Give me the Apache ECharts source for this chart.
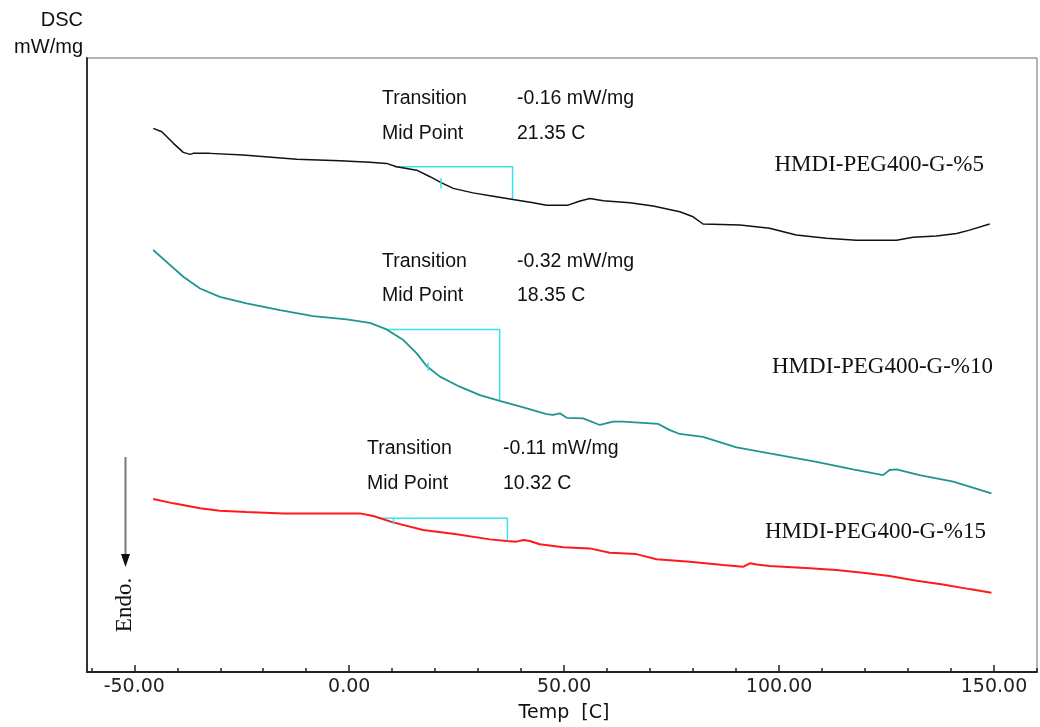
<!DOCTYPE html>
<html>
<head>
<meta charset="utf-8">
<title>DSC</title>
<script src="https://cdn.jsdelivr.net/npm/echarts@6/dist/echarts.min.js"></script>
<style>
  html, body { margin: 0; padding: 0; background: #fff; }
  #chart { width: 1040px; height: 727px; }
</style>
</head>
<body>
<div id="chart"></div>
<script>
// temperature (C) and heat flow (mW/mg, arbitrary offset)
const blackTemp = [-45.6, -43.6, -40.9, -38.6, -37.0, -36.3, -32.4, -24.7, -12.2, -2.2, 4.8, 8.7, 11.0, 15.7, 18.8, 21.5, 24.2, 28.8, 33.5, 38.1, 42.8, 45.9, 50.9, 53.7, 56.0, 59.1, 65.3, 70.7, 76.9, 80.0, 82.3, 90.9, 97.8, 104.0, 111.0, 118.0, 127.3, 131.2, 136.6, 141.3, 144.3, 149.0]
const blackVal = [2.656, 2.640, 2.583, 2.539, 2.529, 2.534, 2.534, 2.526, 2.505, 2.498, 2.491, 2.485, 2.469, 2.452, 2.420, 2.390, 2.363, 2.341, 2.325, 2.309, 2.293, 2.281, 2.281, 2.301, 2.314, 2.302, 2.293, 2.277, 2.249, 2.224, 2.189, 2.184, 2.168, 2.135, 2.119, 2.110, 2.110, 2.124, 2.130, 2.143, 2.159, 2.189]

const tealTemp = [-45.6, -42.5, -38.6, -34.7, -30.1, -23.9, -16.1, -8.4, -0.6, 4.8, 8.7, 12.6, 15.7, 18.0, 21.1, 25.7, 30.4, 35.0, 40.5, 45.9, 47.4, 49.0, 50.6, 54.4, 58.3, 61.4, 63.7, 71.9, 74.6, 76.9, 82.3, 90.1, 97.8, 108.7, 117.2, 124.2, 125.7, 127.3, 132.7, 140.5, 149.4]
const tealVal = [2.062, 2.004, 1.931, 1.874, 1.833, 1.801, 1.768, 1.739, 1.723, 1.706, 1.674, 1.622, 1.557, 1.495, 1.443, 1.394, 1.353, 1.325, 1.293, 1.260, 1.256, 1.264, 1.242, 1.239, 1.207, 1.223, 1.223, 1.212, 1.182, 1.163, 1.149, 1.098, 1.068, 1.027, 0.990, 0.962, 0.987, 0.990, 0.962, 0.930, 0.873]

const redTemp = [-45.6, -40.9, -34.7, -30.1, -23.9, -15.3, 2.5, 5.6, 10.2, 17.2, 25.0, 32.7, 36.6, 38.9, 40.5, 42.0, 44.3, 49.8, 56.0, 60.6, 66.8, 71.5, 79.2, 87.0, 91.6, 93.2, 94.8, 97.8, 107.1, 113.3, 119.5, 125.7, 132.0, 138.1, 144.3, 149.4]
const redVal = [0.845, 0.824, 0.800, 0.788, 0.782, 0.775, 0.775, 0.762, 0.731, 0.694, 0.673, 0.648, 0.640, 0.637, 0.645, 0.640, 0.624, 0.609, 0.604, 0.583, 0.576, 0.551, 0.539, 0.523, 0.514, 0.531, 0.525, 0.518, 0.507, 0.498, 0.485, 0.469, 0.446, 0.428, 0.405, 0.387]

// glass transition construction (black, teal, red)
const stepStart = [10.6, 8.7, 6.7]
const stepEnd = [38.0, 35.0, 36.8]
const stepTop = [2.469, 1.674, 0.751]
const stepBottom = [2.309, 1.329, 0.645]
const midTemp = [21.35, 18.35, 10.32]
const midTop = [2.412, 1.511, 0.751]
const midBottom = [2.363, 1.472, 0.722]

const transitions = ['-0.16 mW/mg', '-0.32 mW/mg', '-0.11 mW/mg']
const midPoints = ['21.35 C', '18.35 C', '10.32 C']
const sampleNames = ['HMDI-PEG400-G-%5', 'HMDI-PEG400-G-%10', 'HMDI-PEG400-G-%15']

const majorTicks = [-50, 0, 50, 100, 150]
const minorTicks = [-60, -40, -30, -20, -10, 10, 20, 30, 40, 60, 70, 80, 90, 110, 120, 130, 140, 160]

const curveColors = ['#111111', '#1f9590', '#ff1a1a']
const curveWidths = [1.5, 1.8, 2]
const stepColor = '#35e3ea'

function zip(xs, ys) {
  return xs.map((x, i) => [x, ys[i]])
}

const chart = echarts.init(document.getElementById('chart'))

const curves = [zip(blackTemp, blackVal), zip(tealTemp, tealVal), zip(redTemp, redVal)]

const series = []
curves.forEach((data, i) => {
  series.push({
    type: 'line',
    name: sampleNames[i],
    data: data,
    symbol: 'none',
    smooth: false,
    lineStyle: { color: curveColors[i], width: curveWidths[i] },
    z: 3,
  })
})
// cyan step brackets + midpoint tick
for (let i = 0; i < 3; i++) {
  series.push({
    type: 'line',
    data: [[stepStart[i], stepTop[i]], [stepEnd[i], stepTop[i]], [stepEnd[i], stepBottom[i]]],
    symbol: 'none',
    lineStyle: { color: stepColor, width: 1.5 },
    z: 2,
  })
  series.push({
    type: 'line',
    data: [[midTemp[i], midTop[i]], [midTemp[i], midBottom[i]]],
    symbol: 'none',
    lineStyle: { color: stepColor, width: 1.5 },
    z: 4,
  })
}

// text placements
const annoLeft = [382, 382, 367]
const valueLeft = [517, 517, 503]
const transY = [99, 262, 449]
const midY = [134, 296, 484]
const nameRight = [984, 993, 986]
const nameY = [165, 367, 532]

const sans = '"Liberation Sans", Arial, sans-serif'
const serif = '"Liberation Serif", "Times New Roman", serif'

const graphic = []
for (let i = 0; i < 3; i++) {
  graphic.push(
    { type: 'text', x: annoLeft[i], y: transY[i], style: { text: 'Transition', fontSize: 19.5, fontFamily: sans, fill: '#111', textAlign: 'left', textVerticalAlign: 'middle' } },
    { type: 'text', x: valueLeft[i], y: transY[i], style: { text: transitions[i], fontSize: 19.5, fontFamily: sans, fill: '#111', textAlign: 'left', textVerticalAlign: 'middle' } },
    { type: 'text', x: annoLeft[i], y: midY[i], style: { text: 'Mid Point', fontSize: 19.5, fontFamily: sans, fill: '#111', textAlign: 'left', textVerticalAlign: 'middle' } },
    { type: 'text', x: valueLeft[i], y: midY[i], style: { text: midPoints[i], fontSize: 19.5, fontFamily: sans, fill: '#111', textAlign: 'left', textVerticalAlign: 'middle' } },
    { type: 'text', x: nameRight[i], y: nameY[i], style: { text: sampleNames[i], fontSize: 23, fontFamily: serif, fill: '#111', textAlign: 'right', textVerticalAlign: 'middle' } }
  )
}
graphic.push(
  { type: 'text', x: 83, y: 20, style: { text: 'DSC', fontSize: 20, fontFamily: sans, fill: '#111', textAlign: 'right', textVerticalAlign: 'middle' } },
  { type: 'text', x: 83, y: 47, style: { text: 'mW/mg', fontSize: 20, fontFamily: sans, fill: '#111', textAlign: 'right', textVerticalAlign: 'middle' } },
  { type: 'text', x: 564, y: 713, style: { text: 'Temp  [C]', fontSize: 19, fontFamily: '"DejaVu Sans", sans-serif', fill: '#111', textAlign: 'center', textVerticalAlign: 'middle' } },
  // Endo. arrow
  { type: 'line', shape: { x1: 125.5, y1: 457, x2: 125.5, y2: 556 }, style: { stroke: '#777', lineWidth: 2 } },
  { type: 'polygon', shape: { points: [[121, 554], [130, 554], [125.5, 567]] }, style: { fill: '#111' } },
  { type: 'text', x: 125, y: 605, rotation: Math.PI / 2, style: { text: 'Endo.', fontSize: 23, fontFamily: serif, fill: '#111', textAlign: 'center', textVerticalAlign: 'middle' } }
)

const option = {
  animation: false,
  backgroundColor: '#fff',
  grid: {
    left: 87, right: 3, top: 58, bottom: 55,
    show: true, borderColor: '#6a6a6a', borderWidth: 1,
  },
  xAxis: [
    {
      type: 'value', min: -61, max: 160,
      axisLine: { onZero: false, lineStyle: { color: '#222', width: 2 } },
      axisTick: { customValues: majorTicks, inside: true, length: 7, lineStyle: { color: '#222', width: 1.5 } },
      axisLabel: {
        customValues: majorTicks,
        formatter: (v) => v.toFixed(2),
        fontFamily: '"DejaVu Sans", sans-serif', fontSize: 19, color: '#222', margin: 6,
      },
      splitLine: { show: false },
    },
    {
      type: 'value', min: -61, max: 160, position: 'bottom',
      axisLine: { show: false, onZero: false },
      axisTick: { customValues: minorTicks, inside: true, length: 4, lineStyle: { color: '#222', width: 1.5 } },
      axisLabel: { show: false },
      splitLine: { show: false },
    },
  ],
  yAxis: {
    type: 'value', min: 0, max: 3,
    axisLine: { show: true, onZero: false, lineStyle: { color: '#333', width: 2 } },
    axisTick: { show: false },
    axisLabel: { show: false },
    splitLine: { show: false },
  },
  series: series,
  graphic: graphic,
}

chart.setOption(option)
</script>
</body>
</html>
